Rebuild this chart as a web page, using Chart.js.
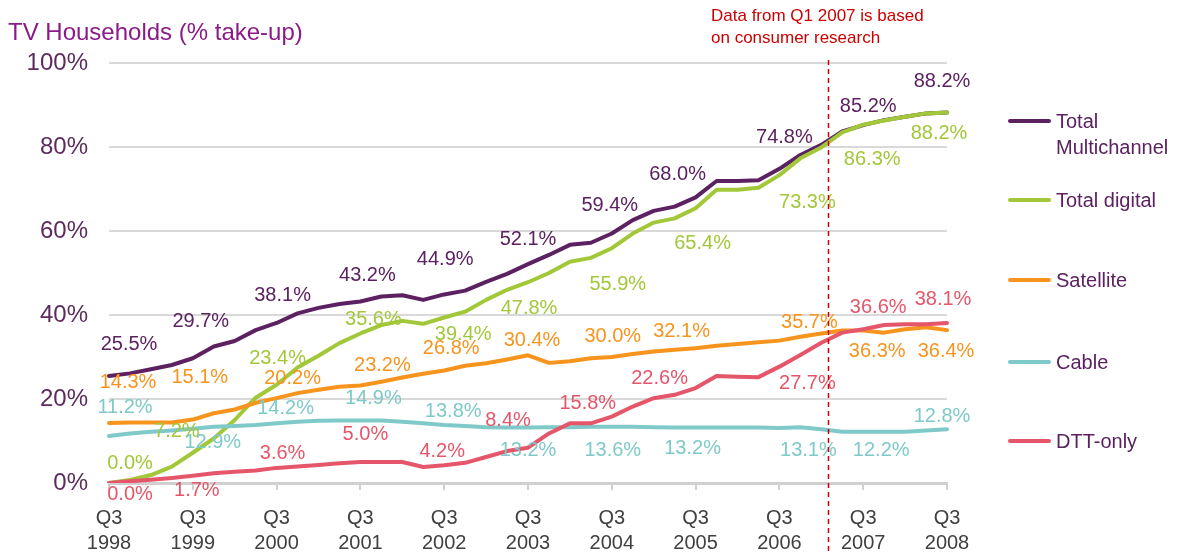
<!DOCTYPE html>
<html>
<head>
<meta charset="utf-8">
<title>TV Households (% take-up)</title>
<script src="https://cdn.jsdelivr.net/npm/chart.js@4.4.1/dist/chart.umd.min.js"></script>
<style>
  body { margin: 0; background: #fff; font-family: 'Liberation Sans', Arial, sans-serif; }
  #wrap { position: relative; width: 1177px; height: 553px; }
  #wrap canvas { position: absolute; left: 0; top: 0; }
  #title { position: absolute; left: 8px; top: 18px; font-size: 24px; line-height: 27px; color: #8b1a89; white-space: nowrap; }
  #note { position: absolute; left: 711px; top: 5px; font-size: 17px; line-height: 22px; color: #cc0000; white-space: nowrap; }
  .item { position: absolute; left: 1008px; display: flex; align-items: flex-start; white-space: nowrap; }
  .swatch { width: 43px; height: 4px; border-radius: 2px; margin-top: 11px; margin-right: 5px; }
  .txt { font-size: 20px; line-height: 26px; color: #5b2160; }
</style>
</head>
<body>
<div id="wrap">
  <canvas id="tvChart" width="1177" height="553"></canvas>
  <div id="title">TV Households (% take-up)</div>
  <div id="note">Data from Q1 2007 is based<br>on consumer research</div>
  <div id="legend"></div>
</div>
<script>
// quarters, Q3 1998 -> Q3 2008
const quarters = [
  'Q3 1998', 'Q4 1998', 'Q1 1999', 'Q2 1999', 'Q3 1999', 'Q4 1999', 'Q1 2000', 'Q2 2000',
  'Q3 2000', 'Q4 2000', 'Q1 2001', 'Q2 2001', 'Q3 2001', 'Q4 2001', 'Q1 2002', 'Q2 2002',
  'Q3 2002', 'Q4 2002', 'Q1 2003', 'Q2 2003', 'Q3 2003', 'Q4 2003', 'Q1 2004', 'Q2 2004',
  'Q3 2004', 'Q4 2004', 'Q1 2005', 'Q2 2005', 'Q3 2005', 'Q4 2005', 'Q1 2006', 'Q2 2006',
  'Q3 2006', 'Q4 2006', 'Q1 2007', 'Q2 2007', 'Q3 2007', 'Q4 2007', 'Q1 2008', 'Q2 2008',
  'Q3 2008'
];
const tickYears = ['1998', '1999', '2000', '2001', '2002', '2003', '2004', '2005', '2006', '2007', '2008'];

const multichannel = [25.5, 26.1, 27.1, 28.1, 29.7, 32.5, 33.8, 36.4, 38.1, 40.4,
  41.7, 42.6, 43.2, 44.4, 44.7, 43.6, 44.9, 45.8, 47.9, 49.8,
  52.1, 54.3, 56.7, 57.2, 59.4, 62.6, 64.8, 65.8, 68.0, 71.9,
  71.9, 72.1, 74.8, 78.1, 80.5, 83.7, 85.2, 86.4, 87.2, 88.0, 88.2];
const digital = [0.0, 0.7, 1.9, 3.9, 7.2, 10.6, 15.0, 20.3, 23.4, 27.5,
  30.3, 33.3, 35.6, 37.6, 38.6, 37.9, 39.4, 40.8, 43.6, 46.0,
  47.8, 50.0, 52.7, 53.6, 55.9, 59.4, 62.0, 63.0, 65.4, 69.8,
  69.8, 70.3, 73.3, 77.3, 79.9, 83.5, 85.3, 86.3, 87.2, 88.0, 88.2];
const satellite = [14.3, 14.4, 14.4, 14.4, 15.1, 16.6, 17.5, 19.1, 20.2, 21.4,
  22.2, 22.9, 23.2, 24.1, 25.1, 26.0, 26.8, 27.9, 28.5, 29.4,
  30.4, 28.6, 29.0, 29.7, 30.0, 30.7, 31.3, 31.7, 32.1, 32.7,
  33.1, 33.5, 33.9, 34.8, 35.6, 36.3, 36.3, 35.8, 36.6, 37.1, 36.4];
const cable = [11.2, 11.8, 12.2, 12.5, 12.9, 13.4, 13.6, 13.8, 14.2, 14.6,
  14.8, 14.9, 14.9, 14.9, 14.6, 14.2, 13.8, 13.6, 13.3, 13.2,
  13.2, 13.3, 13.3, 13.4, 13.4, 13.4, 13.3, 13.2, 13.2, 13.2,
  13.2, 13.2, 13.1, 13.3, 12.8, 12.2, 12.2, 12.2, 12.2, 12.5, 12.8];
const dttOnly = [0.0, 0.4, 0.8, 1.2, 1.7, 2.3, 2.7, 3.0, 3.6, 3.9,
  4.3, 4.7, 5.0, 5.0, 5.0, 3.8, 4.2, 4.8, 6.2, 7.6,
  8.4, 11.8, 14.2, 14.2, 15.8, 18.2, 20.2, 21.0, 22.6, 25.5,
  25.3, 25.2, 27.7, 30.5, 33.4, 35.8, 36.6, 37.6, 37.8, 37.8, 38.1];

// value labels shown every Q3
const labelIdx = [0, 4, 8, 12, 16, 20, 24, 28, 32, 36, 40];
const multichannelText = ['25.5%', '29.7%', '38.1%', '43.2%', '44.9%', '52.1%', '59.4%', '68.0%', '74.8%', '85.2%', '88.2%'];
const digitalText = ['0.0%', '7.2%', '23.4%', '35.6%', '39.4%', '47.8%', '55.9%', '65.4%', '73.3%', '86.3%', '88.2%'];
const satelliteText = ['14.3%', '15.1%', '20.2%', '23.2%', '26.8%', '30.4%', '30.0%', '32.1%', '35.7%', '36.3%', '36.4%'];
const cableText = ['11.2%', '12.9%', '14.2%', '14.9%', '13.8%', '13.2%', '13.6%', '13.2%', '13.1%', '12.2%', '12.8%'];
const dttText = ['0.0%', '1.7%', '3.6%', '5.0%', '4.2%', '8.4%', '15.8%', '22.6%', '27.7%', '36.6%', '38.1%'];

// label offsets from their point (px)
const multichannelPos = [[20, -31], [8, -37], [6, -27], [7, -26], [1, -35], [0, -25], [-2, -28], [-18, -23], [5, -31], [5, -19], [-5, -31]];
const digitalPos = [[21, -20], [-16, -21], [1, -26], [13, -14], [19, 17], [1, 26], [6, 36], [7, 35], [28, 27], [9, 35], [-8, 21]];
const satellitePos = [[19, -40], [7, -42], [16, -20], [22, -20], [7, -22], [4, -15], [1, -21], [-14, -17], [30, -18], [14, 21], [-1, 21]];
const cablePos = [[16, -28], [20, 14], [9, -15], [13, -22], [9, -14], [0, 23], [1, 24], [-3, 21], [29, 23], [18, 19], [-5, -13]];
const dttPos = [[21, 11], [4, 15], [6, -14], [5, -28], [-2, -14], [-20, -27], [-24, -13], [-36, -10], [28, 17], [15, -22], [-4, -23]];

const legendNames = ['Total<br>Multichannel', 'Total digital', 'Satellite', 'Cable', 'DTT-only'];
const legendY = [121, 200, 280, 362, 441];

const colors = ['#5b2160', '#a2c83a', '#f7941d', '#7fc9c9', '#e5566a'];

function series(label, data, color, text, pos, order) {
  return {
    label: label,
    data: data,
    borderColor: color,
    backgroundColor: color,
    borderWidth: 4,
    pointRadius: 0,
    fill: false,
    tension: 0,
    borderCapStyle: 'round',
    borderJoinStyle: 'round',
    order: order,
    valueText: text,
    labelPos: pos
  };
}

const valueLabels = {
  id: 'valueLabels',
  afterDatasetsDraw(chart) {
    const { ctx, scales: { x, y } } = chart;
    ctx.save();
    ctx.font = '20px "Liberation Sans", Arial, sans-serif';
    ctx.textAlign = 'center';
    ctx.textBaseline = 'middle';
    chart.data.datasets.forEach(ds => {
      ds.valueText.forEach((t, k) => {
        const i = labelIdx[k];
        const [dx, dy] = ds.labelPos[k];
        ctx.fillStyle = ds.borderColor;
        ctx.fillText(t, x.getPixelForValue(i) + dx, y.getPixelForValue(ds.data[i]) + dy);
      });
    });
    ctx.restore();
  }
};

// red dashed marker a little after Q1 2007
const researchLine = {
  id: 'researchLine',
  afterDraw(chart) {
    const { ctx, scales: { x } } = chart;
    const step = x.getPixelForValue(1) - x.getPixelForValue(0);
    const px = Math.round(x.getPixelForValue(quarters.indexOf('Q1 2007')) + step * 0.3) + 0.5;
    ctx.save();
    ctx.strokeStyle = '#cc0000';
    ctx.lineWidth = 1.5;
    ctx.setLineDash([5, 4]);
    ctx.beginPath();
    ctx.moveTo(px, 60);
    ctx.lineTo(px, chart.height);
    ctx.stroke();
    ctx.restore();
  }
};

new Chart(document.getElementById('tvChart'), {
  type: 'line',
  data: {
    labels: quarters,
    datasets: [
      series('Total Multichannel', multichannel, colors[0], multichannelText, multichannelPos, 5),
      series('Total digital', digital, colors[1], digitalText, digitalPos, 4),
      series('Satellite', satellite, colors[2], satelliteText, satellitePos, 3),
      series('Cable', cable, colors[3], cableText, cablePos, 2),
      series('DTT-only', dttOnly, colors[4], dttText, dttPos, 1)
    ]
  },
  options: {
    responsive: false,
    animation: false,
    layout: { padding: { left: 0, right: 230, top: 63, bottom: 0 } },
    plugins: {
      legend: { display: false },
      tooltip: { enabled: false }
    },
    scales: {
      x: {
        type: 'category',
        offset: false,
        afterFit: s => { s.height = 70; },
        grid: { drawOnChartArea: false, drawTicks: true, tickLength: 7, color: '#d0d0d0', lineWidth: 2 },
        border: { display: true, color: '#d0d0d0', width: 3 },
        ticks: {
          autoSkip: false,
          maxRotation: 0,
          padding: 16,
          color: '#404040',
          font: { family: '"Liberation Sans", Arial, sans-serif', size: 20, lineHeight: 1.25 },
          callback: (v, i) => (i % 4 === 0 ? ['Q3', tickYears[i / 4]] : null)
        }
      },
      y: {
        min: 0,
        max: 100,
        afterFit: s => { s.width = 109; },
        grid: { color: '#d9d9d9', lineWidth: 2, drawTicks: false },
        border: { display: false },
        ticks: {
          stepSize: 20,
          padding: 21,
          color: '#5e2b5f',
          font: { family: '"Liberation Sans", Arial, sans-serif', size: 24 },
          callback: v => v + '%'
        }
      }
    }
  },
  plugins: [valueLabels, researchLine]
});

// legend on the right
const legend = document.getElementById('legend');
legendNames.forEach((name, k) => {
  const item = document.createElement('div');
  item.className = 'item';
  item.style.top = (legendY[k] - 13) + 'px';
  item.innerHTML = '<div class="swatch" style="background:' + colors[k] + '"></div><div class="txt">' + name + '</div>';
  legend.appendChild(item);
});
</script>
</body>
</html>
